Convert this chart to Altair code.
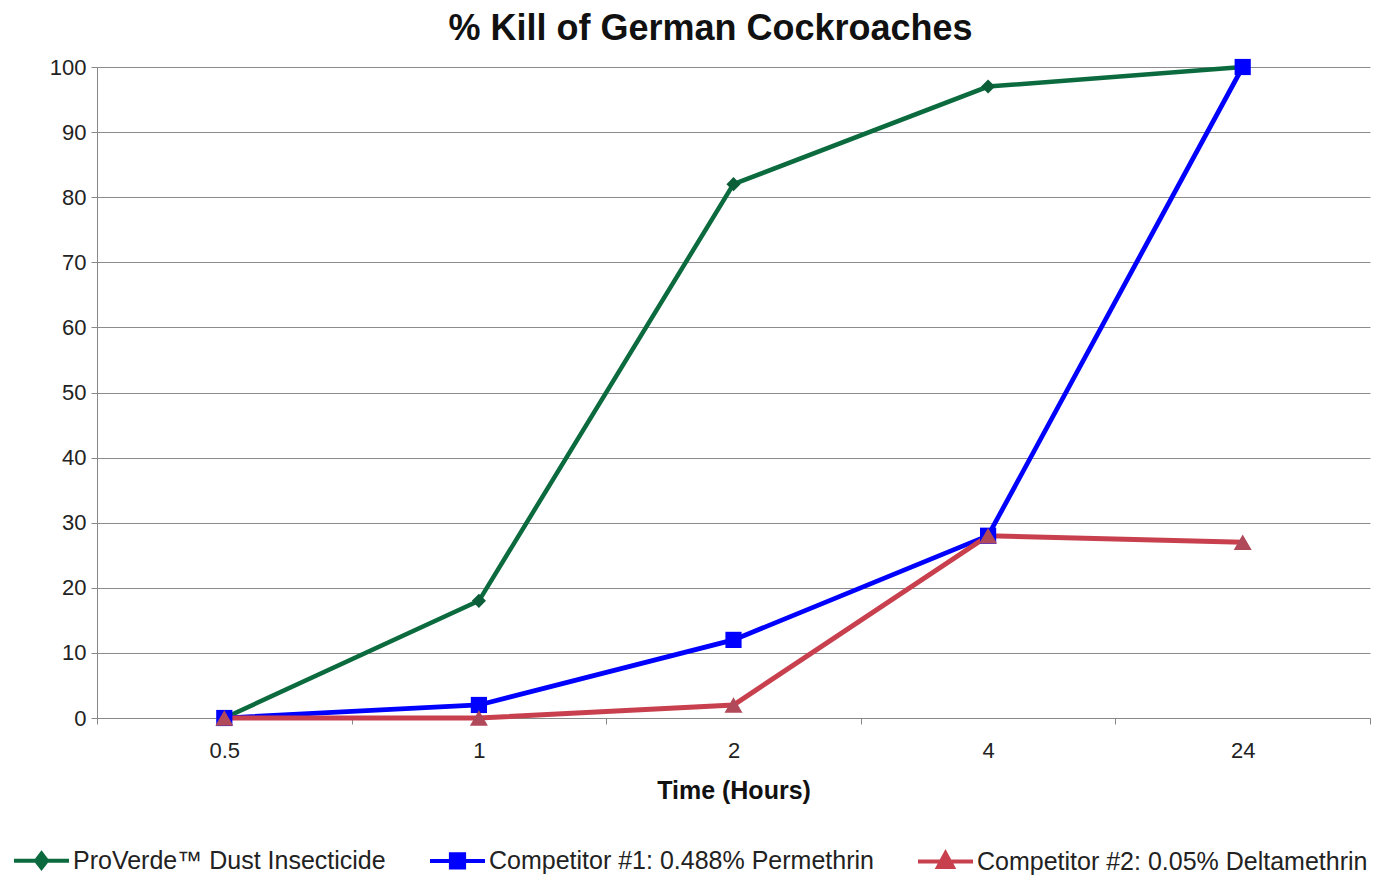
import altair as alt
import pandas as pd

# ---- data ----
times = ["0.5", "1", "2", "4", "24"]
proverde = [0, 18, 82, 97, 100]
competitor1 = [0, 2, 12, 28, 100]
competitor2 = [0, 0, 2, 28, 27]
series_names = [
    "ProVerde™ Dust Insecticide",
    "Competitor #1: 0.488% Permethrin",
    "Competitor #2: 0.05% Deltamethrin",
]
line_colors = ["#0b6b3e", "#0000ff", "#c8404e"]
marker_colors = ["#0b5e38", "#0000ff", "#b04a5a"]
marker_shapes = ["diamond", "square", "triangle-up"]
marker_sizes = [200, 324, 200]
line_widths = [4.5, 5, 4]

# legend symbols: a line with the marker in the middle (custom SVG paths)
legend_shapes = [
    "M-1,0L1,0M0,-0.26L0.2,0L0,0.26L-0.2,0Z",
    "M-1,0L1,0M-0.24,-0.24L0.24,-0.24L0.24,0.24L-0.24,0.24Z",
    "M-1,0L1,0M0,-0.3L0.27,0.2L-0.27,0.2Z",
]

rows = []
for name, vals in zip(series_names, [proverde, competitor1, competitor2]):
    for t, v in zip(times, vals):
        rows.append({"time": t, "kill": v, "series": name, "entry": name})
df = pd.DataFrame(rows)

FONT = "Liberation Sans"

x_enc = alt.X(
    "time:N",
    sort=times,
    bandPosition=0.5,
    scale=alt.Scale(type="band", domain=times, paddingInner=0, paddingOuter=0),
    axis=alt.Axis(
        title="Time (Hours)",
        labelAngle=0,
        labelFont=FONT,
        labelFontSize=22,
        labelColor="#222222",
        labelPadding=16,
        tickBand="extent",
        tickSize=6,
        tickColor="#888888",
        domainColor="#888888",
        grid=False,
        titleFont=FONT,
        titleFontSize=25,
        titleFontWeight="bold",
        titleColor="#111111",
        titlePadding=17,
    ),
)
y_enc = alt.Y(
    "kill:Q",
    scale=alt.Scale(domain=[0, 100], nice=False),
    axis=alt.Axis(
        title=None,
        values=list(range(0, 101, 10)),
        labelFont=FONT,
        labelFontSize=22,
        labelColor="#222222",
        labelPadding=5,
        tickSize=6,
        tickColor="#888888",
        domainColor="#888888",
        gridColor="#8c8c8c",
        gridWidth=1.2,
    ),
)

lines = alt.Chart(df).mark_line().encode(
    x=x_enc,
    y=y_enc,
    color=alt.Color("series:N", scale=alt.Scale(domain=series_names, range=line_colors), legend=None),
    strokeWidth=alt.StrokeWidth("series:N", scale=alt.Scale(domain=series_names, range=line_widths), legend=None),
    detail="series:N",
)

points = alt.Chart(df).mark_point(filled=True, opacity=1).encode(
    x=x_enc,
    y=y_enc,
    fill=alt.Fill("series:N", scale=alt.Scale(domain=series_names, range=marker_colors), legend=None),
    shape=alt.Shape("series:N", scale=alt.Scale(domain=series_names, range=marker_shapes), legend=None),
    size=alt.Size("series:N", scale=alt.Scale(domain=series_names, range=marker_sizes), legend=None),
)

legend_kw = dict(
    title=None,
    orient="none",
    legendX=-85,
    legendY=764,
    direction="horizontal",
    labelFont=FONT,
    labelFontSize=25,
    labelColor="#222222",
    labelLimit=0,
    labelOffset=2,
    symbolSize=3025,
    symbolStrokeWidth=4,
    columnPadding=36,
)

legend_layer = alt.Chart(df).transform_filter("false").mark_point(
    filled=True, opacity=1, strokeWidth=4
).encode(
    x=x_enc,
    y=y_enc,
    fill=alt.Fill("entry:N", scale=alt.Scale(domain=series_names, range=line_colors), legend=alt.Legend(**legend_kw)),
    stroke=alt.Stroke("entry:N", scale=alt.Scale(domain=series_names, range=line_colors), legend=alt.Legend(**legend_kw)),
    shape=alt.Shape("entry:N", scale=alt.Scale(domain=series_names, range=legend_shapes), legend=alt.Legend(**legend_kw)),
)

chart = (
    alt.layer(lines, points, legend_layer)
    .resolve_scale(fill="independent", shape="independent", stroke="independent", color="independent")
    .properties(
        width=1273,
        height=651,
        autosize=alt.AutoSizeParams(type="none"),
        padding={"left": 89, "top": 59, "right": 11, "bottom": 157},
        title=alt.TitleParams(
            "% Kill of German Cockroaches",
            font=FONT,
            fontSize=36,
            fontWeight="bold",
            color="#111111",
            anchor="middle",
            dx=-23,
            offset=8,
        ),
        background="white",
    )
    .configure_view(stroke=None)
)

chart.save("out.html", embed_options={"renderer": "svg", "actions": False})
